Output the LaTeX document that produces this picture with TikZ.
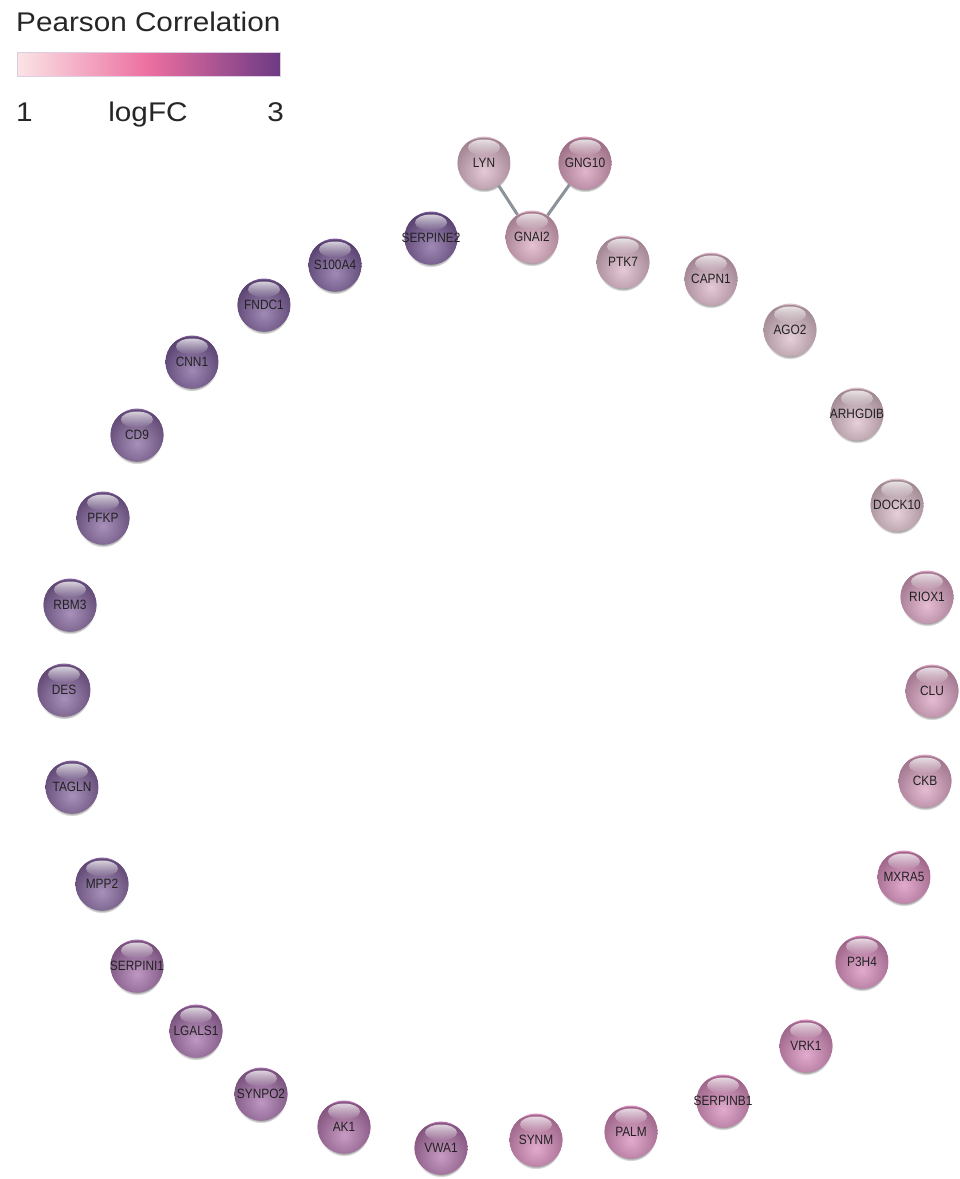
\documentclass[tikz,border=0pt]{standalone}
\usepackage{fontspec}
\setmainfont{Liberation Sans}
\usetikzlibrary{shadows,fadings}
\definecolor{cPale}{HTML}{DAB2C5}
\definecolor{cPale2}{HTML}{DBBBC8}
\definecolor{cGNG}{HTML}{D496B5}
\definecolor{cGNAI}{HTML}{DBA8C0}
\definecolor{cPinkA}{HTML}{DAA0C0}
\definecolor{cPinkB}{HTML}{D688BA}
\definecolor{cMag}{HTML}{B070AA}
\definecolor{cMagP}{HTML}{A26CA8}
\definecolor{cPur}{HTML}{82619D}
\definecolor{cPurD}{HTML}{775796}
\definecolor{edgeC}{HTML}{8B9299}
\definecolor{txtC}{HTML}{222222}
\definecolor{barL}{HTML}{FBE4E6}
\definecolor{barM}{HTML}{EC6FA0}
\definecolor{barR}{HTML}{6C3A84}
\newcommand{\gl}[1]{\makebox[0pt][c]{\scalebox{0.88}[1]{#1}}}
\tikzset{
  gene/.style={circle, minimum size=53pt, inner sep=0pt, text=txtC,
    font=\fontsize{13.5}{14}\selectfont,
    circular drop shadow={shadow xshift=0pt, shadow yshift=-4pt, shadow scale=0.96, opacity=0.65, fill=black!70}},
  ball/.style={fill=#1, path picture={
    \shade[inner color=#1!70!white, outer color=#1!72!black]
      ([yshift=-9pt]path picture bounding box.center) circle (34pt);
    \fill[white, path fading=south, fill opacity=0.75]
      ([yshift=-11pt]path picture bounding box.north) ellipse (16pt and 8pt);
  }},
  link/.style={draw=edgeC, line width=3pt},
  legend/.style={font=\fontsize{27}{30}\selectfont, text=black!85, inner sep=0pt, xscale=1.1}
}
\begin{document}
\begin{tikzpicture}[x=1pt,y=-1pt]
\useasboundingbox (0,0) rectangle (960,1179);
\fill[white] (0,0) rectangle (960,1179);
% legend
\node[legend, anchor=base west] (title) at (16,31) {Pearson Correlation};
\shade[left color=barL, right color=barR, middle color=barM, draw=barR!25!white, line width=0.8pt] (17,52) rectangle (280,76);
\node[legend, anchor=base west] (one) at (16,121) {1};
\node[legend, anchor=base] (lfc) at (148,121) {logFC};
\node[legend, anchor=base east] (three) at (284,121) {3};
% nodes
\node[gene, ball=cPale] (LYN) at (484,163) {\gl{LYN}};
\node[gene, ball=cGNG] (GNG10) at (585,163) {\gl{GNG10}};
\node[gene, ball=cGNAI] (GNAI2) at (532,237) {\gl{GNAI2}};
\node[gene, ball=cPurD] (SERPINE2) at (431,238) {\gl{SERPINE2}};
\node[gene, ball=cPale] (PTK7) at (623,262) {\gl{PTK7}};
\node[gene, ball=cPale] (CAPN1) at (711,279) {\gl{CAPN1}};
\node[gene, ball=cPale2] (AGO2) at (790,330) {\gl{AGO2}};
\node[gene, ball=cPale2] (ARHGDIB) at (857,414) {\gl{ARHGDIB}};
\node[gene, ball=cPale2] (DOCK10) at (897,505) {\gl{DOCK10}};
\node[gene, ball=cPinkA] (RIOX1) at (927,597) {\gl{RIOX1}};
\node[gene, ball=cPinkA] (CLU) at (932,691) {\gl{CLU}};
\node[gene, ball=cPinkA] (CKB) at (925,781) {\gl{CKB}};
\node[gene, ball=cPinkB] (MXRA5) at (904,877) {\gl{MXRA5}};
\node[gene, ball=cPinkB] (P3H4) at (862,962) {\gl{P3H4}};
\node[gene, ball=cPinkB] (VRK1) at (806,1046) {\gl{VRK1}};
\node[gene, ball=cPinkB] (SERPINB1) at (723,1101) {\gl{SERPINB1}};
\node[gene, ball=cPinkB] (PALM) at (631,1132) {\gl{PALM}};
\node[gene, ball=cPinkB] (SYNM) at (536,1140) {\gl{SYNM}};
\node[gene, ball=cMag] (VWA1) at (441,1148) {\gl{VWA1}};
\node[gene, ball=cMag] (AK1) at (344,1127) {\gl{AK1}};
\node[gene, ball=cMagP] (SYNPO2) at (261,1094) {\gl{SYNPO2}};
\node[gene, ball=cMagP] (LGALS1) at (196,1031) {\gl{LGALS1}};
\node[gene, ball=cMagP] (SERPINI1) at (137,966) {\gl{SERPINI1}};
\node[gene, ball=cPur] (MPP2) at (102,884) {\gl{MPP2}};
\node[gene, ball=cPur] (TAGLN) at (72,787) {\gl{TAGLN}};
\node[gene, ball=cPur] (DES) at (64,690) {\gl{DES}};
\node[gene, ball=cPur] (RBM3) at (70,605) {\gl{RBM3}};
\node[gene, ball=cPur] (PFKP) at (103,518) {\gl{PFKP}};
\node[gene, ball=cPur] (CD9) at (137,435) {\gl{CD9}};
\node[gene, ball=cPurD] (CNN1) at (192,362) {\gl{CNN1}};
\node[gene, ball=cPurD] (FNDC1) at (264,305) {\gl{FNDC1}};
\node[gene, ball=cPurD] (S100A4) at (335,265) {\gl{S100A4}};
% links
\draw[link] (LYN) -- (GNAI2);
\draw[link] (GNG10) -- (GNAI2);
\end{tikzpicture}
\end{document}
